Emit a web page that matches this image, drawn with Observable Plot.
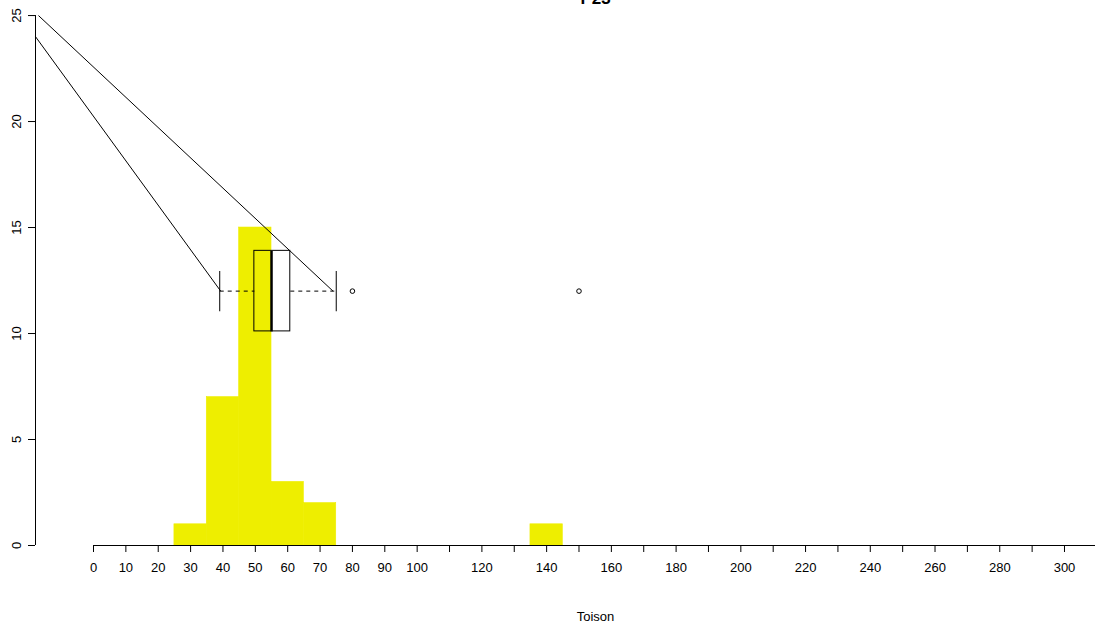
<!DOCTYPE html>
<html>
<head>
<meta charset="utf-8">
<script src="https://cdn.jsdelivr.net/npm/d3@7"></script>
<script src="https://cdn.jsdelivr.net/npm/@observablehq/plot@0.6"></script>
<style>
  html, body { margin: 0; padding: 0; background: #fff; }
  #chart { width: 1095px; height: 630px; overflow: hidden; }
</style>
</head>
<body>
<div id="chart"></div>
<script>
// ---- data ----
const title = "P23";
const xTitle = "Toison";
const binStart = [25, 35, 45, 55, 65, 135];
const binEnd   = [35, 45, 55, 65, 75, 145];
const counts   = [1, 7, 15, 3, 2, 1];

const boxY = 12;
const boxHalf = 1.9;
const capHalf = 0.95;
const lowerWhisker = 39;
const q1 = 49.7;
const median = 55;
const q3 = 60.8;
const upperWhisker = 75;
const outliers = [80, 150];

// two guide lines reaching the whisker ends
const guideX1 = [-17.9, -17.0];
const guideY1 = [24, 25];
const guideX2 = [39.3, 74];
const guideY2 = [12, 12];

const xTicks = d3.range(0, 301, 10);
const xLabelled = [0, 10, 20, 30, 40, 50, 60, 70, 80, 90, 100, 120, 140, 160, 180, 200, 220, 240, 260, 280, 300];
const yTicks = [0, 5, 10, 15, 20, 25];

// ---- build ----
const bins = binStart.map((s, i) => ({x1: s, x2: binEnd[i], y: counts[i]}));
const guides = guideX1.map((x, i) => ({x1: x, y1: guideY1[i], x2: guideX2[i], y2: guideY2[i]}));
const xMin = -17.92, xMax = 309.58;

const plot = Plot.plot({
  width: 1095,
  height: 630,
  marginTop: 0,
  marginBottom: 85,
  marginLeft: 35,
  marginRight: 0,
  style: {fontFamily: "'Liberation Sans', Arial, Helvetica, sans-serif", fontSize: "13px", color: "black", background: "white"},
  x: {domain: [xMin, xMax]},
  y: {domain: [0, 25.71]},
  marks: [
    Plot.rectY(bins, {x1: "x1", x2: "x2", y1: 0, y2: "y", fill: "#EEEE00", stroke: "#EEEE00", strokeWidth: 0.6, inset: 0}),
    // axes
    Plot.ruleY([0], {x1: 0, x2: xMax, stroke: "black"}),
    Plot.axisX({ticks: xTicks, tickSize: 7, tickPadding: 10, tickFormat: d => xLabelled.includes(d) ? String(d) : "", label: null}),
    Plot.ruleX([xMin], {y1: 0, y2: 25, stroke: "black"}),
    Plot.axisY({ticks: yTicks, tickSize: 7, tickPadding: 8, tickRotate: -90, label: null}),
    // guide lines
    Plot.link(guides, {x1: "x1", y1: "y1", x2: "x2", y2: "y2", stroke: "black", strokeWidth: 1}),
    // boxplot
    Plot.link([{a: lowerWhisker, b: q1}, {a: q3, b: upperWhisker}], {x1: "a", x2: "b", y1: boxY, y2: boxY, stroke: "black", strokeDasharray: "4,4"}),
    Plot.link([lowerWhisker, upperWhisker], {x1: d => d, x2: d => d, y1: boxY - capHalf, y2: boxY + capHalf, stroke: "black"}),
    Plot.rect([{a: q1, b: q3}], {x1: "a", x2: "b", y1: boxY - boxHalf, y2: boxY + boxHalf, fill: "none", stroke: "black"}),
    Plot.link([median], {x1: d => d, x2: d => d, y1: boxY - boxHalf, y2: boxY + boxHalf, stroke: "black", strokeWidth: 2.5}),
    Plot.dot(outliers, {x: d => d, y: boxY, r: 2.3, stroke: "black", fill: "none", strokeWidth: 1}),
    // titles
    Plot.text([title], {frameAnchor: "top-left", dx: 560, dy: 3, text: d => d, lineAnchor: "bottom", textAnchor: "middle", fontWeight: "bold", fontSize: 17}),
    Plot.text([xTitle], {frameAnchor: "bottom-left", dx: 560, dy: 71, text: d => d, lineAnchor: "middle", textAnchor: "middle", fontSize: 13})
  ]
});
document.getElementById("chart").appendChild(plot);
</script>
</body>
</html>
